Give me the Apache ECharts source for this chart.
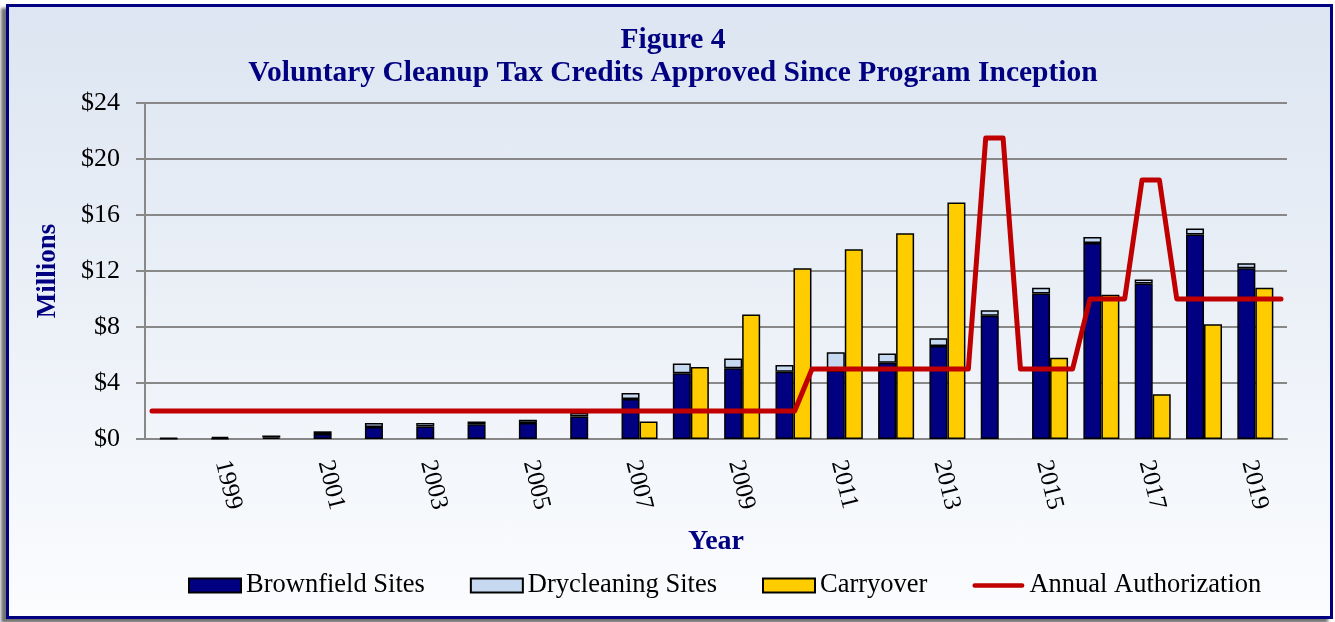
<!DOCTYPE html>
<html>
<head>
<meta charset="utf-8">
<script src="https://cdn.jsdelivr.net/npm/echarts@6/dist/echarts.min.js"></script>
<style>
  html, body { margin: 0; padding: 0; background: #ffffff; }
  #frame {
    position: absolute; left: 6px; top: 4px; width: 1321px; height: 609px;
    border: 3px solid #000080;
    background: linear-gradient(#dce5f1, #fbfcfe);
    box-shadow: -5px 4px 3px rgba(0, 0, 0, 0.55);
  }
  #chart { position: absolute; left: 0; top: 0; width: 1335px; height: 622px; }
</style>
</head>
<body>
<div id="frame"></div>
<div id="chart"></div>
<script>
const years = ['1998', '1999', '2000', '2001', '2002', '2003', '2004', '2005', '2006', '2007', '2008',
  '2009', '2010', '2011', '2012', '2013', '2014', '2015', '2016', '2017', '2018', '2019']

// $ millions
const brownfield = [0.02, 0.05, 0.1, 0.35, 0.85, 0.9, 1.05, 1.15, 1.6, 2.85, 4.7,
  5.05, 4.8, 4.9, 5.45, 6.65, 8.8, 10.4, 14.0, 11.1, 14.6, 12.2]
const drycleaning = [0.05, 0.1, 0.15, 0.2, 0.3, 0.25, 0.2, 0.22, 0.25, 0.43, 0.7,
  0.7, 0.48, 1.3, 0.65, 0.55, 0.4, 0.4, 0.43, 0.3, 0.43, 0.35]
const carryover = [null, null, null, null, null, null, null, null, null, 1.25, 5.15,
  8.9, 12.2, 13.55, 14.7, 16.9, null, 5.8, 10.3, 3.2, 8.2, 10.8]

// annual authorization, three readings per year (1998 .. 2019)
const authorization = [
  2, 2, 2, 2, 2, 2, 2, 2, 2, 2, 2, 2, // 1998-2001
  2, 2, 2, 2, 2, 2, 2, 2, 2, 2, 2, 2, // 2002-2005
  2, 2, 2, 2, 2, 2, 2, 2, 2, 2, 2, 2, // 2006-2009
  2, 2, 5, // 2010
  5, 5, 5, // 2011
  5, 5, 5, // 2012
  5, 5, 5, // 2013
  21.5, 21.5, 5, // 2014
  5, 5, 5, // 2015
  10, 10, 10, // 2016
  18.5, 18.5, 10, // 2017
  10, 10, 10, // 2018
  10, 10, 10 // 2019
]

const yTicks = { min: 0, max: 24, interval: 4 }

const serif = '"Liberation Serif", "Times New Roman", serif'
const navy = '#000080'
const red = '#c00000'
const gridGrey = '#888888'

const chart = echarts.init(document.getElementById('chart'))

const option = {
  backgroundColor: 'transparent',
  animation: false,
  title: [
    {
      text: 'Figure 4',
      left: 668,
      top: 20,
      textAlign: 'center',
      textStyle: { fontFamily: serif, fontWeight: 'bold', fontSize: 29.5, color: navy }
    },
    {
      text: 'Voluntary Cleanup Tax Credits Approved Since Program Inception',
      left: 668,
      top: 53,
      textAlign: 'center',
      textStyle: { fontFamily: serif, fontWeight: 'bold', fontSize: 29.5, color: navy }
    }
  ],
  legend: {
    left: 183,
    top: 567,
    itemWidth: 52,
    itemHeight: 14,
    itemGap: 45,
    textStyle: { fontFamily: serif, fontSize: 26.5, color: '#000000' },
    data: [
      { name: 'Brownfield Sites', icon: 'rect' },
      { name: 'Drycleaning Sites', icon: 'rect' },
      { name: 'Carryover', icon: 'rect' },
      {
        name: 'Annual Authorization',
        icon: 'path://M2.5,0 L53.5,0 A2.5,2.5 0 0 1 53.5,5 L2.5,5 A2.5,2.5 0 0 1 2.5,0 Z',
        itemStyle: { color: red, borderWidth: 0 }
      }
    ]
  },
  grid: [
    // frame with value axis and gridlines
    { left: 145, right: 48, top: 103, bottom: 183, outerBoundsMode: 'none' },
    // inner area holding the categories
    { left: 152, right: 54, top: 103, bottom: 183, outerBoundsMode: 'none' }
  ],
  xAxis: [
    {
      gridIndex: 0,
      type: 'value',
      min: 0,
      max: 1,
      name: 'Year',
      nameLocation: 'middle',
      nameGap: 89,
      nameTextStyle: { fontFamily: serif, fontWeight: 'bold', fontSize: 28, color: navy },
      axisLine: { show: true, onZero: false, lineStyle: { color: gridGrey, width: 2 } },
      axisTick: { show: false },
      axisLabel: { show: false },
      splitLine: { show: false }
    },
    {
      gridIndex: 1,
      type: 'category',
      data: years,
      axisLine: { show: false },
      axisTick: { show: false },
      axisLabel: {
        rotate: -76,
        margin: 20,
        verticalAlign: 'top',
        lineHeight: 14,
        interval: (i) => i % 2 === 1,
        fontFamily: serif,
        fontSize: 25,
        color: '#000000'
      }
    },
    {
      gridIndex: 1,
      type: 'value',
      min: 0,
      max: authorization.length - 1,
      show: false
    }
  ],
  yAxis: [
    {
      gridIndex: 0,
      type: 'value',
      min: yTicks.min,
      max: yTicks.max,
      interval: yTicks.interval,
      name: 'Millions',
      nameLocation: 'middle',
      nameGap: 83,
      nameTextStyle: { fontFamily: serif, fontWeight: 'bold', fontSize: 27, color: navy },
      axisLine: { show: true, onZero: false, lineStyle: { color: gridGrey, width: 2 } },
      axisTick: { show: true, length: 9, lineStyle: { color: gridGrey, width: 2 } },
      splitLine: { lineStyle: { color: gridGrey, width: 2 } },
      axisLabel: {
        margin: 25,
        formatter: (v) => '$' + v,
        fontFamily: serif,
        fontSize: 26,
        color: '#000000'
      }
    },
    {
      gridIndex: 1,
      type: 'value',
      min: yTicks.min,
      max: yTicks.max,
      interval: yTicks.interval,
      show: false
    }
  ],
  series: [
    {
      name: 'Brownfield Sites',
      type: 'bar',
      xAxisIndex: 1,
      yAxisIndex: 1,
      stack: 'sites',
      barWidth: 18,
      barGap: '0%',
      data: brownfield,
      itemStyle: { color: navy, borderColor: '#000000', borderWidth: 1.5 }
    },
    {
      name: 'Drycleaning Sites',
      type: 'bar',
      xAxisIndex: 1,
      yAxisIndex: 1,
      stack: 'sites',
      barWidth: 18,
      barGap: '0%',
      data: drycleaning,
      itemStyle: { color: '#c6d9f1', borderColor: '#000000', borderWidth: 1.5 }
    },
    {
      name: 'Carryover',
      type: 'bar',
      xAxisIndex: 1,
      yAxisIndex: 1,
      barWidth: 18,
      barGap: '0%',
      data: carryover,
      itemStyle: { color: '#ffcc00', borderColor: '#000000', borderWidth: 1.5 }
    },
    {
      name: 'Annual Authorization',
      type: 'line',
      xAxisIndex: 2,
      yAxisIndex: 1,
      symbol: 'none',
      z: 5,
      data: authorization.map((v, k) => [k, v]),
      lineStyle: { color: red, width: 5, cap: 'round', join: 'round' },
      itemStyle: { color: red }
    }
  ]
}

chart.setOption(option)
</script>
</body>
</html>
